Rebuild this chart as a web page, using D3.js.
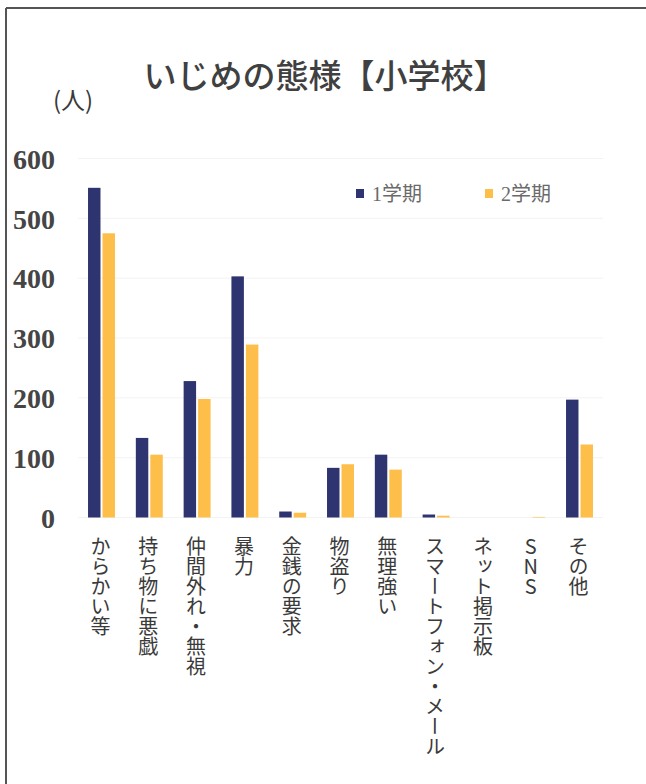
<!DOCTYPE html>
<html><head><meta charset="utf-8">
<script src="https://cdn.jsdelivr.net/npm/d3@7"></script>
<style>
html,body{margin:0;padding:0;background:#fff;}
svg{display:block;}
.xlab{writing-mode:vertical-rl;text-orientation:upright;}
</style></head>
<body>
<svg id="chart" width="646" height="784"></svg>
<script>
const categories = ["からかい等","持ち物に悪戯","仲間外れ・無視","暴力","金銭の要求","物盗り","無理強い","スマートフォン・メール","ネット掲示板","SNS","その他"];
const seriesNames = ["1学期","2学期"];
const term1 = [551, 133, 228, 403, 10, 83, 105, 5, 0, 0, 197];
const term2 = [475, 105, 198, 289, 8, 89, 80, 3, 0, 1, 122];
const yTicks = [0, 100, 200, 300, 400, 500, 600];
const colors = ["#2d3470", "#fdbf4a"];
const title = "いじめの態様【小学校】";
const unitLabel = "(人)";

const svg = d3.select("#chart");
// frame
svg.append("line").attr("x1",6).attr("y1",8).attr("x2",646).attr("y2",8).attr("stroke","#555").attr("stroke-width",2);
svg.append("line").attr("x1",6).attr("y1",8).attr("x2",6).attr("y2",784).attr("stroke","#555").attr("stroke-width",2);

const x = d3.scaleBand().domain(categories).range([77.6, 603.4]).padding(0);
const xs = d3.scaleBand().domain(seriesNames).range([0, x.bandwidth()]).paddingInner(0.14).paddingOuter(0.72);
const y = d3.scaleLinear().domain([0, 600]).range([517.5, 158.5]);

// faint gridlines
svg.append("g").selectAll("line").data(yTicks).join("line")
  .attr("x1",78).attr("x2",603).attr("y1",d=>y(d)).attr("y2",d=>y(d))
  .attr("stroke","#f3f3f3").attr("stroke-width",1);

// y axis labels
const yAxis = d3.axisLeft(y).tickValues(yTicks).tickSize(0).tickPadding(0);
const ga = svg.append("g").attr("transform","translate(55,0)").call(yAxis);
ga.select(".domain").remove();
ga.selectAll("text").attr("font-family","'Liberation Serif', serif").attr("font-weight","bold")
  .attr("font-size",28).attr("fill","#454545").attr("text-anchor","end").attr("dy","0.35em");

// bars
const data = categories.map((c,i)=>({c, vals:[term1[i], term2[i]]}));
const groups = svg.append("g").selectAll("g").data(data).join("g")
  .attr("transform", d=>`translate(${x(d.c)},0)`);
groups.selectAll("rect").data(d=>d.vals.map((v,j)=>({v, s:seriesNames[j], j})))
  .join("rect")
  .attr("x", d=>xs(d.s)).attr("width", xs.bandwidth())
  .attr("y", d=>y(d.v)).attr("height", d=>y(0)-y(d.v))
  .attr("fill", d=>colors[d.j]);

// x labels (vertical)
svg.append("g").selectAll("text").data(categories).join("text")
  .attr("class","xlab")
  .attr("x", d=>x(d)+x.bandwidth()/2 - 1).attr("y", 536)
  .attr("font-family","'Noto Sans CJK JP', sans-serif").attr("font-size",20)
  .attr("fill","#3a3a3a").text(d=>d);

// title
svg.append("text").attr("x",325).attr("y",74).attr("text-anchor","middle")
  .attr("dominant-baseline","central")
  .attr("font-family","'Noto Sans CJK JP', sans-serif").attr("font-weight","500")
  .attr("font-size",33).attr("fill","#404040").text(title);

// unit label
svg.append("text").attr("x",53).attr("y",98).attr("dominant-baseline","central")
  .attr("font-family","'Noto Sans CJK JP', sans-serif").attr("font-size",24)
  .attr("fill","#3a3a3a").text(unitLabel);

// legend
const leg = svg.append("g").selectAll("g").data(seriesNames).join("g")
  .attr("transform",(d,i)=>`translate(${356 + i*129},189)`);
leg.append("rect").attr("width",8).attr("height",9).attr("fill",(d,i)=>colors[i]);
leg.append("text").attr("x",16).attr("y",5).attr("dominant-baseline","central")
  .attr("font-family","'Liberation Serif','Noto Sans CJK JP', serif").attr("font-size",20)
  .attr("fill","#6a6a6a").text(d=>d);
</script>
</body></html>
